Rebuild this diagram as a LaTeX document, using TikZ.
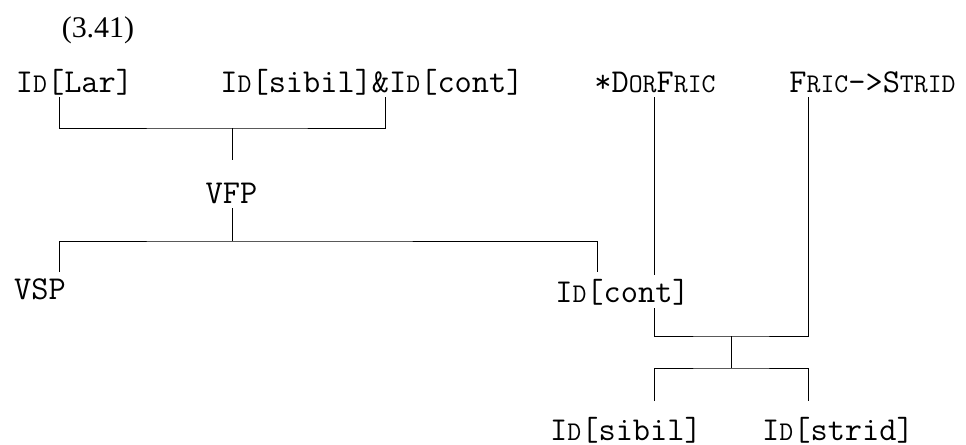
\documentclass[tikz,border=0pt]{standalone}
\usepackage{fontspec}
\setmainfont{Liberation Serif}
\newcommand\sm[1]{{\fontsize{13.5}{15}\selectfont #1}}
\tikzset{lbl/.style={font=\ttfamily\fontsize{16.7}{19}\selectfont, inner sep=0pt, anchor=base}}

\begin{document}
\begin{tikzpicture}[x=0.5pt,y=-0.5pt,line width=0.45pt]
\useasboundingbox (0,0) rectangle (966,445);
\node [font=\fontsize{15}{18}\selectfont, anchor=base] (num) at (98,37) {(3.41)};

\node [lbl] (lar) at (74.5,92) {I\sm{D}[Lar]};
\node [lbl] (sibcont) at (372,92) {I\sm{D}[sibil]\&I\sm{D}[cont]};
\node [lbl] (dorfric) at (655,92) {*D\sm{OR}F\sm{RIC}};
\node [lbl] (fricstrid) at (872.5,92) {F\sm{RIC}—>S\sm{TRID}};

\node [lbl] (vfp) at (231.5,203) {VFP};

\node [lbl] (vsp) at (40,299) {VSP};
\node [lbl, inner ysep=1.5pt] (cont) at (622.5,302) {I\sm{D}[cont]};

\node [lbl] (sibil) at (626,440) {I\sm{D}[sibil]};
\node [lbl] (strid) at (838,440) {I\sm{D}[strid]};

\coordinate (lar-f) at (59,97);
\coordinate (sc-f) at (385,97);
\coordinate (top) at (232,128);
\coordinate (vfp-t) at (232,160);
\coordinate (vfp-f) at (232,208);
\coordinate (mid) at (232,241);
\coordinate (vsp-t) at (59,272);
\coordinate (cont-t) at (597,272);
\coordinate (df-f) at (654,97);
\coordinate (fs-f) at (808,97);
\coordinate (low) at (731,336);
\coordinate (bot) at (731,368);
\coordinate (sib-t) at (654,401);
\coordinate (str-t) at (808,401);

\draw (lar-f) |- (top) -| (sc-f);
\draw (top) -- (vfp-t);
\draw (vfp-f) -- (mid);
\draw (vsp-t) |- (mid) -| (cont-t);
\draw (df-f) -- (df-f |- cont.north);
\draw (df-f |- cont.south) |- (low) -| (fs-f);
\draw (low) -- (bot);
\draw (sib-t) |- (bot) -| (str-t);
\end{tikzpicture}
\end{document}
